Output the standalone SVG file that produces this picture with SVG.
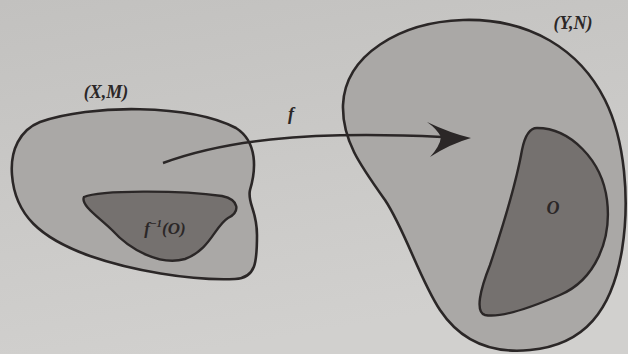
<svg xmlns="http://www.w3.org/2000/svg" width="628" height="354" viewBox="0 0 628 354">
<defs>
<linearGradient id="bg" x1="0" y1="0" x2="0.3" y2="1">
<stop offset="0" stop-color="#c2c1bf"/>
<stop offset="1" stop-color="#d1d0ce"/>
</linearGradient>
<style>
.outer{fill:#aaa8a6;stroke:#2b2727;stroke-width:2.6}
.inner{fill:#75716f;stroke:#2b2727;stroke-width:2.4}
.lbl{font-family:"Liberation Serif",serif;font-style:italic;font-weight:bold;fill:#2b2727}
.conn{fill:none;stroke:#2b2727;stroke-width:2.4}
</style>
</defs>
<rect width="628" height="354" fill="url(#bg)"/>
<g id="spaceX">
<path class="outer" d="M 40,122 C 90,104 190,104 236,128 C 258,142 256,170 250,190 C 247,203 257,210 257,235 C 257,262 256,278 235,279 C 190,281 130,270 90,256 C 40,238 15,215 12,175 C 10,150 20,130 40,122 Z"/>
<text class="lbl" x="106" y="98" font-size="18" text-anchor="middle">(X,M)</text>
</g>
<g id="preimage">
<path class="inner" d="M 84,197 C 100,190 180,190 222,196 C 240,200 240,212 228,218 C 215,226 210,250 185,259 C 160,266 130,250 112,230 C 100,218 80,205 84,197 Z"/>
<text class="lbl" x="165" y="234" font-size="17" text-anchor="middle">f<tspan font-size="11" dy="-7">−1</tspan><tspan dy="7">(O)</tspan></text>
</g>
<g id="spaceY">
<path class="outer" d="M 463,20 C 530,18 580,50 605,100 C 625,140 630,200 622,250 C 612,310 585,345 530,350 C 490,354 460,340 440,310 C 420,280 405,230 385,200 C 360,165 342,140 343,105 C 345,55 400,22 463,20 Z"/>
<text class="lbl" x="573" y="29" font-size="18" text-anchor="middle">(Y,N)</text>
</g>
<g id="setO">
<path class="inner" d="M 537,128 C 570,128 602,160 607,200 C 612,240 595,280 560,295 C 530,308 500,318 485,315 C 475,312 480,290 490,265 C 500,235 515,190 522,150 C 525,135 530,128 537,128 Z"/>
<text class="lbl" x="553" y="214" font-size="18" text-anchor="middle">O</text>
</g>
<g id="connectors">
<path class="conn" d="M 163,163 C 220,142 300,130 442,137"/>
<path d="M 427,122 Q 450,133 471,138 Q 450,144 430,157 Q 440,146 441,137 Q 437,129 427,122 Z" fill="#2b2727"/>
<text class="lbl" x="291" y="120" font-size="18" text-anchor="middle">f</text>
</g>
</svg>
